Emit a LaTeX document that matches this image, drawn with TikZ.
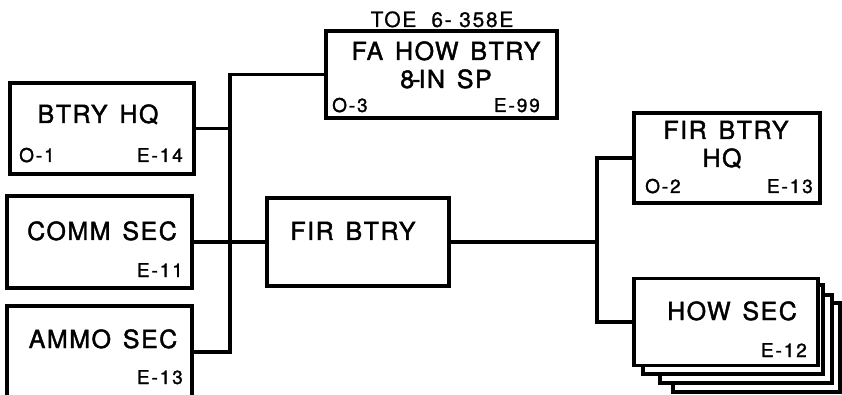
\documentclass[tikz,border=0pt]{standalone}
\usepackage{fontspec}
\setmainfont{TeX Gyre Heros}
\newfontfamily\letfont[FakeBold=1.6,LetterSpace=6,WordSpace=1.4]{TeX Gyre Heros}
\newfontfamily\smlfont[FakeBold=1.4,LetterSpace=10]{TeX Gyre Heros}
\newfontfamily\toefont[FakeBold=0.8,LetterSpace=8]{TeX Gyre Heros}
\begin{document}
\begin{tikzpicture}[x=1pt,y=-1pt,
  box/.style={draw,line width=3.2pt,fill=white,inner sep=0pt,minimum width=#1},
  big/.style={font=\letfont\fontsize{25}{28}\selectfont,anchor=base,inner sep=0pt},
  small/.style={font=\smlfont\fontsize{19}{22}\selectfont,inner sep=0pt},
  lab/.style={font=\toefont\fontsize{21}{24}\selectfont,anchor=base,inner sep=0pt},
  conn/.style={line width=3.2pt}]
\useasboundingbox (0,0) rectangle (842,395);
% boxes
\node[box=184pt,minimum height=91pt] (hq) at (102,128.5) {};
\node[box=185pt,minimum height=92pt] (comm) at (99.5,242) {};
\node[box=185pt,minimum height=92pt] (ammo) at (99.5,352) {};
\node[box=231pt,minimum height=87pt] (fa) at (441.5,74.5) {};
\node[box=182pt,minimum height=88pt] (fir) at (358,242) {};
\node[box=186pt,minimum height=90pt] (firhq) at (727,158) {};
% stacked how sec
\node[box=167pt,minimum height=89pt] (how3) at (756.5,347.5) {};
\node[box=172pt,minimum height=88pt] (how2) at (746,339) {};
\node[box=180pt,minimum height=89pt] (how1) at (733,329.5) {};
\node[box=184pt,minimum height=87pt] (how) at (726,322) {};
% texts
\node[lab] (toe) at (442,27) {TOE\ \ 6-\ 358E};
\node[big] (t1) at (98,123) {BTRY HQ};
\node[small,anchor=base west] (t1a) at (19,162) {O-1};
\node[small,anchor=base east] (t1b) at (183,162) {E-14};
\node[big] (t2) at (102,240) {COMM SEC};
\node[small,anchor=base east] (t2b) at (183,277) {E-11};
\node[big] (t3) at (103,348) {AMMO SEC};
\node[small,anchor=base east] (t3b) at (183,384) {E-13};
\node[big] (t4) at (446,60) {FA HOW BTRY};
\node[big] (t4l) at (446,88) {8\kern-2pt-\kern-2pt IN SP};
\node[small,anchor=base west] (t4a) at (332,112) {O-3};
\node[small,anchor=base east] (t4b) at (540,112) {E-99};
\node[big] (t5) at (353,240) {FIR BTRY};
\node[big] (t6) at (726,139) {FIR BTRY};
\node[big] (t6l) at (722,167) {HQ};
\node[small,anchor=base west] (t6a) at (645,193) {O-2};
\node[small,anchor=base east] (t6b) at (813,193) {E-13};
\node[big] (t7) at (732,320) {HOW SEC};
\node[small,anchor=base east] (t7b) at (807,357) {E-12};
% connectors
\coordinate (lbus) at (230,242);
\coordinate (rbus) at (597,242);
\draw[conn] (fa.west) -| (lbus) |- (ammo.east);
\draw[conn] (hq.east) -- (hq.east -| lbus);
\draw[conn] (comm.east) -- (fir.west);
\draw[conn] (fir.east) -- (rbus);
\draw[conn] (firhq.west) -| (rbus) |- (how.west);
\end{tikzpicture}
\end{document}
